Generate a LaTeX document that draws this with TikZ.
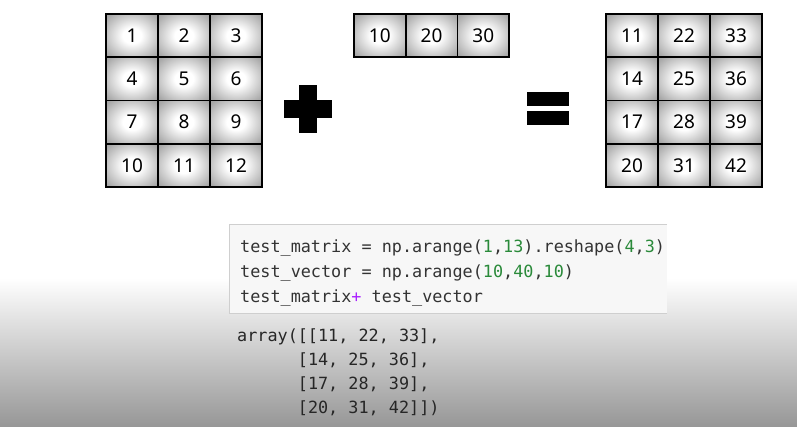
\documentclass[tikz,border=0pt]{standalone}
\usepackage{fontspec}
\setmainfont{Noto Sans}
\newfontfamily\codefont{DejaVu Sans Mono}
\definecolor{codebg}{HTML}{F7F7F7}
\definecolor{codeborder}{HTML}{CFCFCF}
\definecolor{codetext}{HTML}{333333}
\definecolor{numgreen}{HTML}{2A8A3A}
\definecolor{oppurple}{HTML}{AA22FF}
\definecolor{bggray}{HTML}{979797}
\pgfdeclareradialshading{cellgrad}{\pgfpoint{0bp}{0bp}}{color(0bp)=(white); color(9bp)=(white); color(32bp)=(black!34); color(50bp)=(black!42)}
\tikzset{
  cell/.style={draw=black, line width=1.6pt, shading=cellgrad, minimum width=52pt, minimum height=43.25pt, inner sep=0pt, font=\fontsize{19}{19}\selectfont, text=black},
  codeline/.style={anchor=base west, inner sep=0pt, font=\codefont\fontsize{16.8}{16.8}\selectfont, text=codetext},
  outline/.style={anchor=base west, inner sep=0pt, font=\codefont\fontsize{16.8}{16.8}\selectfont, text=black!85},
}
\begin{document}
\begin{tikzpicture}[x=1pt,y=-1pt]
\useasboundingbox (0,0) rectangle (797,426);
\fill[white] (0,0) rectangle (797,278);
\shade[top color=white, bottom color=bggray] (0,278) rectangle (797,426);

% matrix 1
\foreach \r in {1,...,4}{
  \foreach \c in {1,...,3}{
    \pgfmathtruncatemacro{\v}{(\r-1)*3+\c}
    \node[cell] (a-\r-\c) at ({106+26+(\c-1)*52},{14+21.625+(\r-1)*43.25}) {\v};
  }
}
% vector
\foreach \c/\v in {1/10,2/20,3/30}{
  \node[cell, minimum width=51.7pt] (b-\c) at ({354+25.85+(\c-1)*51.7},{14+21.5}) {\v};
}
% result
\foreach \r in {1,...,4}{
  \foreach \c in {1,...,3}{
    \pgfmathtruncatemacro{\w}{(\r-1)*3+\c+10*\c}
    \node[cell] (c-\r-\c) at ({606+26+(\c-1)*52},{14+21.625+(\r-1)*43.25}) {\w};
  }
}
% plus sign
\fill[black] (299,85) rectangle (317,133);
\fill[black] (284,100) rectangle (332,118);
% equals sign
\fill[black] (527,92) rectangle (569,106);
\fill[black] (527,111) rectangle (569,125);

% code box
\fill[codebg] (229,224) rectangle (667,313);
\draw[codeborder, line width=1pt] (667,224) -- (229,224) -- (229,313) -- (667,313);
\node[codeline] (l1) at (240,252) {test\_matrix = np.arange(\textcolor{numgreen}{1},\textcolor{numgreen}{13}).reshape(\textcolor{numgreen}{4},\textcolor{numgreen}{3})};
\node[codeline] (l2) at (240,277) {test\_vector = np.arange(\textcolor{numgreen}{10},\textcolor{numgreen}{40},\textcolor{numgreen}{10})};
\node[codeline] (l3) at (240,302) {test\_matrix\textcolor{oppurple}{+} test\_vector};

% output
\node[outline] (o1) at (237,341) {array([[11, 22, 33],};
\node[outline] (o2) at (237,365) {\phantom{array(}[14, 25, 36],};
\node[outline] (o3) at (237,389) {\phantom{array(}[17, 28, 39],};
\node[outline] (o4) at (237,413) {\phantom{array(}[20, 31, 42]])};
\end{tikzpicture}
\end{document}
